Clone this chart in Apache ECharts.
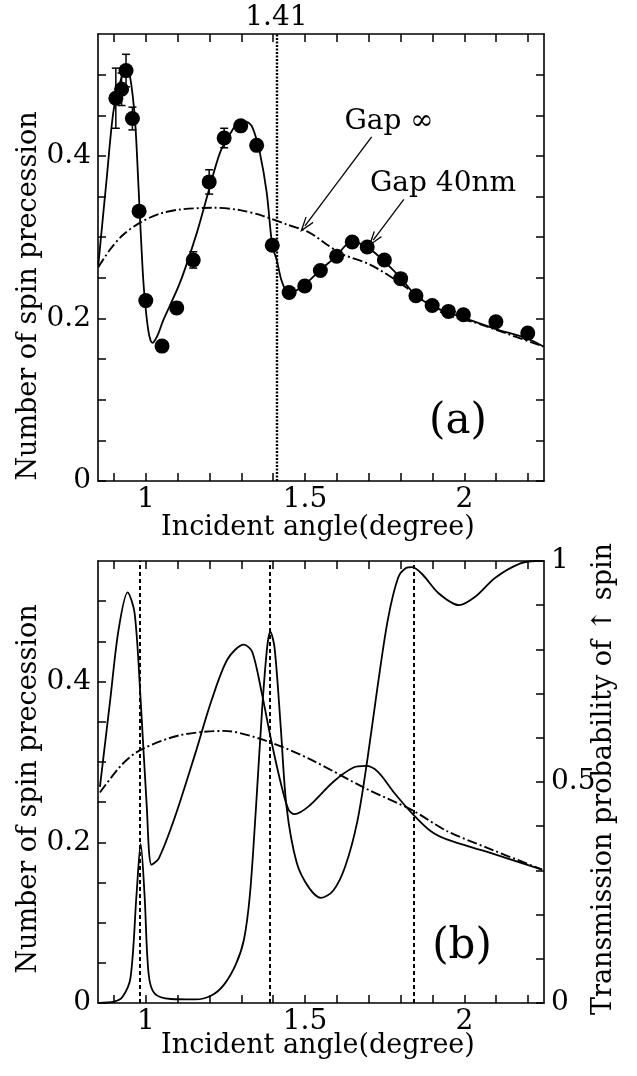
<!DOCTYPE html>
<html><head><meta charset="utf-8">
<script src="https://cdn.jsdelivr.net/npm/echarts@6/dist/echarts.min.js"></script>
<style>html,body{margin:0;padding:0;background:#fff}#c{width:637px;height:1076px}</style>
</head><body><div id="c"></div>
<script>
// ---------- data: panel (a) ----------
const expAngle = [0.906, 0.924, 0.938, 0.958, 0.979, 1.0, 1.051, 1.097, 1.149, 1.199, 1.246, 1.298, 1.348, 1.397, 1.45, 1.499, 1.548, 1.599, 1.648, 1.695, 1.749, 1.80, 1.848, 1.899, 1.95, 1.997, 2.099, 2.199];
const expPrecession = [0.471, 0.482, 0.505, 0.446, 0.332, 0.222, 0.166, 0.213, 0.272, 0.368, 0.422, 0.437, 0.413, 0.290, 0.232, 0.240, 0.259, 0.2765, 0.294, 0.288, 0.272, 0.249, 0.228, 0.216, 0.2087, 0.2046, 0.196, 0.182];
const expError = [0.037, 0.02, 0.02, 0.014, 0.005, 0.004, 0.004, 0.007, 0.01, 0.015, 0.012, 0.006, 0.005, 0.004, 0.003, 0.003, 0.003, 0.003, 0.003, 0.003, 0.003, 0.003, 0.003, 0.003, 0.003, 0.003, 0.003, 0.003];

const gap40A_x = [0.851, 0.877, 0.898, 0.919, 0.938, 0.950, 0.966, 0.977, 0.982, 0.992, 1.0, 1.008, 1.015, 1.022, 1.03, 1.04, 1.055, 1.107, 1.16, 1.196, 1.233, 1.264, 1.298, 1.322, 1.337, 1.358, 1.3795, 1.397, 1.411, 1.425, 1.44, 1.45, 1.497, 1.549, 1.599, 1.631, 1.662, 1.695, 1.725, 1.749, 1.80, 1.848, 1.899, 1.95, 1.997, 2.099, 2.199, 2.248];
const gap40A_y = [0.266, 0.371, 0.4536, 0.49, 0.509, 0.499, 0.445, 0.363, 0.322, 0.248, 0.211, 0.185, 0.173, 0.170, 0.174, 0.182, 0.198, 0.2437, 0.305, 0.355, 0.404, 0.4268, 0.443, 0.441, 0.433, 0.404, 0.355, 0.290, 0.272, 0.248, 0.234, 0.231, 0.241, 0.26, 0.277, 0.291, 0.293, 0.288, 0.2787, 0.270, 0.25, 0.228, 0.2155, 0.207, 0.201, 0.187, 0.175, 0.1655];

const gapInfA_x = [0.851, 0.888, 0.929, 0.982, 1.045, 1.107, 1.212, 1.296, 1.369, 1.442, 1.515, 1.568, 1.62, 1.704, 1.798, 1.882, 1.944, 2.039, 2.143, 2.248];
const gapInfA_y = [0.263, 0.2848, 0.303, 0.318, 0.329, 0.334, 0.3363, 0.3333, 0.326, 0.3157, 0.3054, 0.291, 0.2786, 0.2663, 0.2437, 0.219, 0.2046, 0.1943, 0.18, 0.1655];

const criticalA = [1.41];
// annotation arrows (data coords): [from, to]
const arrowInf = [[1.709, 0.4235], [1.4997, 0.314]];
const arrow40 = [[1.81, 0.3466], [1.714, 0.2963]];

// ---------- data: panel (b) ----------
const gap40B_x = [0.856, 0.888, 0.914, 0.943, 0.965, 0.984, 1.003, 1.018, 1.041, 1.092, 1.155, 1.206, 1.257, 1.308, 1.334, 1.365, 1.391, 1.423, 1.448, 1.467, 1.512, 1.588, 1.652, 1.69, 1.728, 1.779, 1.836, 1.894, 1.945, 2.072, 2.244];
const gap40B_y = [0.269, 0.376, 0.463, 0.511, 0.485, 0.376, 0.245, 0.172, 0.180, 0.232, 0.310, 0.376, 0.428, 0.446, 0.437, 0.384, 0.332, 0.275, 0.2405, 0.235, 0.245, 0.275, 0.293, 0.295, 0.288, 0.262, 0.236, 0.214, 0.2035, 0.188, 0.166];

const gapInfB_x = [0.856, 0.926, 0.984, 1.105, 1.245, 1.372, 1.512, 1.69, 1.836, 1.945, 2.072, 2.244];
const gapInfB_y = [0.262, 0.297, 0.315, 0.333, 0.3386, 0.327, 0.304, 0.267, 0.240, 0.214, 0.193, 0.166];

const transB_x = [0.853, 0.90, 0.926, 0.952, 0.971, 0.984, 0.996, 1.009, 1.028, 1.079, 1.155, 1.206, 1.245, 1.283, 1.308, 1.327, 1.346, 1.365, 1.381, 1.391, 1.404, 1.423, 1.442, 1.474, 1.512, 1.55, 1.588, 1.626, 1.664, 1.696, 1.728, 1.76, 1.792, 1.817, 1.836, 1.868, 1.919, 1.983, 2.034, 2.097, 2.174, 2.224, 2.244];
const transB_y = [0, 0.003, 0.013, 0.057, 0.246, 0.36, 0.246, 0.065, 0.021, 0.009, 0.008, 0.017, 0.041, 0.088, 0.143, 0.246, 0.443, 0.663, 0.805, 0.84, 0.805, 0.631, 0.443, 0.3165, 0.261, 0.238, 0.254, 0.309, 0.411, 0.553, 0.718, 0.868, 0.962, 0.984, 0.986, 0.970, 0.927, 0.90, 0.919, 0.962, 0.994, 1.0, 1.0];

const resonanceB = [0.98, 1.39, 1.84];

// ---------- ticks ----------
const xTicks = [0.9, 1.0, 1.1, 1.2, 1.3, 1.4, 1.5, 1.6, 1.7, 1.8, 1.9, 2.0, 2.1, 2.2];
const xLabels = [1, 1.5, 2];
const yTicks = [0, 0.05, 0.1, 0.15, 0.2, 0.25, 0.3, 0.35, 0.4, 0.45, 0.5];
const yLabels = [0, 0.2, 0.4];
const rTicks = [0, 0.1, 0.2, 0.3, 0.4, 0.5, 0.6, 0.7, 0.8, 0.9, 1.0];
const rLabels = [0, 0.5, 1];

// ---------- chart ----------
const zip = (a, b) => a.map((v, i) => [v, b[i]]);
const FONT = 'DejaVu Serif';
const BLACK = '#000';
const axisLine = { show: true, onZero: false, lineStyle: { color: BLACK, width: 1.6 } };
const tick = (vals) => ({ show: true, inside: true, length: 8, customValues: vals, lineStyle: { color: BLACK, width: 1.5 } });
const lbl = (vals, extra) => Object.assign({ show: true, customValues: vals, color: BLACK, fontFamily: FONT, fontSize: 28, margin: 6 }, extra || {});
const noLbl = { show: false };

function xAx(grid, pos, labels) {
  return { type: 'value', gridIndex: grid, position: pos, min: 0.85, max: 2.25,
    axisLine, axisTick: tick(xTicks), axisLabel: labels ? lbl(xLabels, { margin: 5 }) : noLbl,
    splitLine: { show: false } };
}
function yAx(grid, pos, max, ticks, labels) {
  return { type: 'value', gridIndex: grid, position: pos, min: 0, max: max,
    axisLine, axisTick: tick(ticks), axisLabel: labels ? lbl(labels, { margin: 7 }) : noLbl,
    splitLine: { show: false } };
}

const chevron = 'path://M5,0 L10,15 L8.9,15.6 L5,4.2 L1.1,15.6 L0,15 Z';

const option = {
  animation: false,
  backgroundColor: '#fff',
  grid: [
    { left: 98, top: 34, width: 446, height: 447 },
    { left: 98, top: 561, width: 446, height: 442 }
  ],
  xAxis: [xAx(0, 'bottom', true), xAx(0, 'top', false), xAx(1, 'bottom', true), xAx(1, 'top', false)],
  yAxis: [
    yAx(0, 'left', 0.55, yTicks, yLabels),
    yAx(0, 'right', 0.55, yTicks, null),
    yAx(1, 'left', 0.55, yTicks, yLabels),
    yAx(1, 'right', 1, rTicks, rLabels)
  ],
  series: [
    { type: 'line', name: 'Gap 40nm (a)', xAxisIndex: 0, yAxisIndex: 0, data: zip(gap40A_x, gap40A_y),
      showSymbol: false, smooth: 0.3, lineStyle: { color: BLACK, width: 1.8 }, silent: true,
      markLine: { silent: true, symbol: 'none',
        lineStyle: { color: BLACK, width: 2.4, type: [2, 1.5] },
        label: { show: true, position: 'end', formatter: p => String(p.value), color: BLACK, fontFamily: FONT, fontSize: 28, distance: 2 },
        data: criticalA.map(v => ({ xAxis: v })) } },
    { type: 'line', name: 'Gap ∞ (a)', xAxisIndex: 0, yAxisIndex: 0, data: zip(gapInfA_x, gapInfA_y),
      showSymbol: false, smooth: 0.3, lineStyle: { color: BLACK, width: 1.9, type: [10, 3, 2, 3] }, silent: true,
      markLine: { silent: true, symbol: ['none', chevron], symbolSize: [10, 16],
        lineStyle: { color: BLACK, width: 1.3, type: 'solid' }, label: { show: false },
        data: [arrowInf, arrow40].map(a => [{ coord: a[0] }, { coord: a[1] }]) } },
    { type: 'custom', name: 'error', xAxisIndex: 0, yAxisIndex: 0, silent: true, z: 3,
      data: expAngle.map((x, i) => [x, expPrecession[i] - expError[i], expPrecession[i] + expError[i]]),
      renderItem: function (params, api) {
        const lo = api.coord([api.value(0), api.value(1)]);
        const hi = api.coord([api.value(0), api.value(2)]);
        const w = 4;
        const st = { stroke: BLACK, lineWidth: 1.5 };
        return { type: 'group', children: [
          { type: 'line', shape: { x1: lo[0], y1: lo[1], x2: hi[0], y2: hi[1] }, style: st },
          { type: 'line', shape: { x1: hi[0] - w, y1: hi[1], x2: hi[0] + w, y2: hi[1] }, style: st },
          { type: 'line', shape: { x1: lo[0] - w, y1: lo[1], x2: lo[0] + w, y2: lo[1] }, style: st }
        ] };
      } },
    { type: 'scatter', name: 'experiment', xAxisIndex: 0, yAxisIndex: 0, data: zip(expAngle, expPrecession),
      symbol: 'circle', symbolSize: 15, itemStyle: { color: BLACK, opacity: 1 }, silent: true, z: 6 },

    { type: 'line', name: 'Gap 40nm (b)', xAxisIndex: 2, yAxisIndex: 2, data: zip(gap40B_x, gap40B_y),
      showSymbol: false, smooth: 0.3, lineStyle: { color: BLACK, width: 1.8 }, silent: true,
      markLine: { silent: true, symbol: 'none',
        lineStyle: { color: BLACK, width: 2, type: [4, 3] }, label: { show: false },
        data: resonanceB.map(v => ({ xAxis: v })) } },
    { type: 'line', name: 'Gap ∞ (b)', xAxisIndex: 2, yAxisIndex: 2, data: zip(gapInfB_x, gapInfB_y),
      showSymbol: false, smooth: 0.3, lineStyle: { color: BLACK, width: 1.9, type: [10, 3, 2, 3] }, silent: true },
    { type: 'line', name: 'Transmission', xAxisIndex: 2, yAxisIndex: 3, data: zip(transB_x, transB_y),
      showSymbol: false, smooth: 0.3, lineStyle: { color: BLACK, width: 1.8 }, silent: true }
  ],
  graphic: [
    { type: 'text', x: 29, y: 296, rotation: Math.PI / 2, style: { text: 'Number of spin precession', font: '27px "DejaVu Serif"', fill: BLACK, textAlign: 'center', textVerticalAlign: 'middle' } },
    { type: 'text', x: 318, y: 528, style: { text: 'Incident angle(degree)', font: '27px "DejaVu Serif"', fill: BLACK, textAlign: 'center', textVerticalAlign: 'middle' } },
    { type: 'text', x: 29, y: 789, rotation: Math.PI / 2, style: { text: 'Number of spin precession', font: '27px "DejaVu Serif"', fill: BLACK, textAlign: 'center', textVerticalAlign: 'middle' } },
    { type: 'text', x: 318, y: 1046, style: { text: 'Incident angle(degree)', font: '27px "DejaVu Serif"', fill: BLACK, textAlign: 'center', textVerticalAlign: 'middle' } },
    { type: 'text', x: 604, y: 779, rotation: Math.PI / 2, style: { text: 'Transmission probability of \u2191 spin', font: '27px "DejaVu Serif"', fill: BLACK, textAlign: 'center', textVerticalAlign: 'middle' } },
    { type: 'text', x: 458, y: 422, style: { text: '(a)', font: '42px "DejaVu Serif"', fill: BLACK, textAlign: 'center', textVerticalAlign: 'middle' } },
    { type: 'text', x: 462, y: 947, style: { text: '(b)', font: '42px "DejaVu Serif"', fill: BLACK, textAlign: 'center', textVerticalAlign: 'middle' } },
    { type: 'text', x: 389, y: 122, style: { text: 'Gap \u221E', font: '28px "DejaVu Serif"', fill: BLACK, textAlign: 'center', textVerticalAlign: 'middle' } },
    { type: 'text', x: 443, y: 184, style: { text: 'Gap 40nm', font: '28px "DejaVu Serif"', fill: BLACK, textAlign: 'center', textVerticalAlign: 'middle' } }
  ]
};
const chart = echarts.init(document.getElementById('c'), null, { renderer: 'canvas' });
chart.setOption(option);
</script></body></html>
